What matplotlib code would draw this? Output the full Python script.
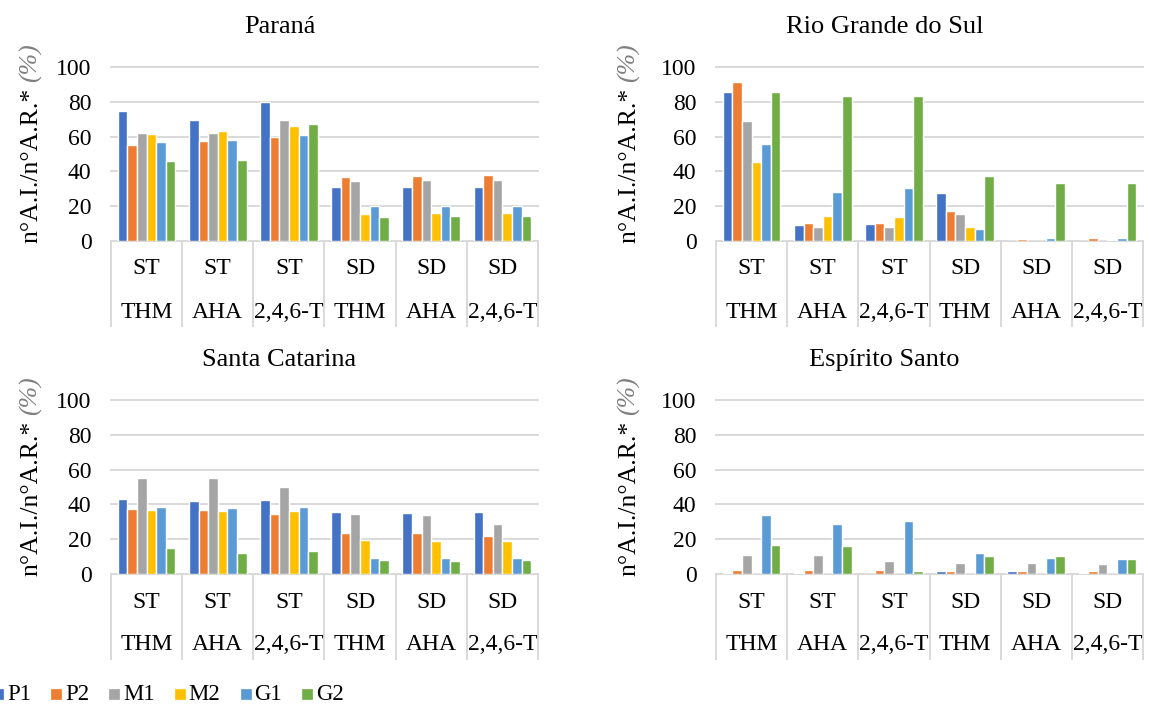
import matplotlib
matplotlib.use('Agg')
import matplotlib.pyplot as plt
import numpy as np
from matplotlib.patches import Rectangle
import matplotlib.transforms as mtransforms

plt.rcParams['font.family'] = ['Liberation Serif', 'DejaVu Serif']

# ---------------- data ----------------
series = ['P1', 'P2', 'M1', 'M2', 'G1', 'G2']
colors = ['#4472C4', '#ED7D31', '#A5A5A5', '#FFC000', '#5B9BD5', '#70AD47']
level1 = ['ST', 'ST', 'ST', 'SD', 'SD', 'SD']
level2 = ['THM', 'AHA', '2,4,6-T', 'THM', 'AHA', '2,4,6-T']
titles = ['Paraná', 'Rio Grande do Sul', 'Santa Catarina', 'Espírito Santo']
yticks = [0, 20, 40, 60, 80, 100]
ylabel_main = 'n°A.I./n°A.R.*'
ylabel_unit = '(%)'

# rows: P1, P2, M1, M2, G1, G2 ; columns: categories
parana = [
    [75.0, 69.8, 79.6, 31.0, 31.0, 31.3],
    [55.4, 57.3, 60.0, 36.9, 37.5, 38.1],
    [62.3, 62.3, 69.8, 34.2, 35.2, 35.2],
    [61.7, 63.5, 66.0, 15.6, 16.0, 16.2],
    [57.1, 58.1, 61.2, 20.2, 20.0, 20.2],
    [46.2, 46.7, 67.3, 13.8, 14.6, 14.6],
]
rio_grande_do_sul = [
    [85.6, 9.2, 9.8, 27.3, 0.2, 0.2],
    [91.3, 10.2, 10.4, 17.1, 1.3, 1.7],
    [68.7, 8.3, 8.3, 15.6, 0.0, 0.0],
    [45.2, 14.4, 14.0, 8.3, 0.2, 0.6],
    [56.0, 28.3, 30.2, 6.7, 1.5, 1.7],
    [85.4, 83.3, 83.3, 37.5, 33.3, 33.3],
]
santa_catarina = [
    [43.3, 42.1, 42.5, 35.4, 34.8, 35.4],
    [37.1, 36.5, 34.6, 23.8, 23.8, 21.7],
    [55.2, 55.0, 49.8, 34.6, 34.0, 29.0],
    [36.5, 36.0, 36.0, 19.4, 19.0, 19.0],
    [38.5, 38.1, 38.5, 9.2, 9.0, 9.0],
    [14.8, 12.1, 13.5, 8.1, 7.3, 7.9],
]
espirito_santo = [
    [0.3, 0.3, 0.0, 1.7, 1.7, 0.8],
    [2.1, 2.3, 2.3, 1.7, 1.7, 1.7],
    [10.8, 11.0, 7.5, 6.3, 6.3, 5.8],
    [0.0, 0.0, 0.0, 0.0, 0.0, 0.0],
    [34.0, 28.7, 30.6, 12.1, 9.0, 8.5],
    [16.7, 16.2, 1.9, 10.4, 10.4, 8.5],
]
states = [parana, rio_grande_do_sul, santa_catarina, espirito_santo]

# ---------------- layout ----------------
W, H = 1149, 704
fig = plt.figure(figsize=(W / 100, H / 100), dpi=100)
renderer = fig.canvas.get_renderer()

lefts = [111, 716, 111, 716]
zeros = [241, 241, 574, 574]
pw, ph = 427, 174
grid_c = '#D9D9D9'
bw = 0.135

for k, data in enumerate(states):
    l, z = lefts[k], zeros[k]
    ax = fig.add_axes([l / W, 1 - z / H, pw / W, ph / H])
    x = np.arange(len(level2))
    for i, (s, c) in enumerate(zip(series, colors)):
        ax.bar(x + (i - 2.5) * bw, data[i], width=bw, color=c,
               edgecolor='white', linewidth=1.0, zorder=3)
    ax.set_xlim(-0.5, len(level2) - 0.5)
    ax.set_ylim(0, 100)
    ax.set_yticks(yticks)
    ax.set_yticklabels([str(t) for t in yticks], fontsize=17)
    ax.tick_params(axis='y', length=0, pad=14)
    ax.set_xticks([])
    for t in yticks[1:]:
        ax.axhline(t, color=grid_c, lw=1.4, zorder=1, clip_on=False)
    for sp in ['top', 'right', 'left']:
        ax.spines[sp].set_visible(False)
    ax.spines['bottom'].set_color(grid_c)
    ax.spines['bottom'].set_linewidth(1.4)
    trans = mtransforms.blended_transform_factory(ax.transData, ax.transAxes)
    for j in range(len(level2) + 1):
        ax.plot([j - 0.5, j - 0.5], [0, -85 / ph], color=grid_c, lw=1.4,
                transform=trans, clip_on=False)
    for j in range(len(level2)):
        ax.text(j, -28 / ph, level1[j], transform=trans, ha='center',
                va='center', fontsize=17)
        ax.text(j, -71 / ph, level2[j], transform=trans, ha='center',
                va='center', fontsize=17)
    # title
    fig.text((l + pw / 2 - 45) / W, 1 - (z - 208) / H, titles[k],
             ha='center', va='baseline', fontsize=19)
    # y label (two parts)
    lx = 31 if k % 2 == 0 else 629
    yb = z + 2
    t1 = fig.text(lx / W, 1 - yb / H, ylabel_main, rotation=90,
                  ha='center', va='bottom', fontsize=18.5)
    bb = t1.get_window_extent(renderer)
    fig.text(lx / W, (bb.y1 + 6) / H, ylabel_unit, rotation=90,
             ha='center', va='bottom', fontsize=18.5, color='#7F7F7F',
             style='italic')

# ---------------- legend ----------------
xcur = -7
for s, c in zip(series, colors):
    fig.patches.append(Rectangle((xcur / W, 1 - 699 / H), 10 / W, 10 / H,
                                 transform=fig.transFigure, facecolor=c,
                                 edgecolor=c, lw=0.5))
    t = fig.text((xcur + 14) / W, 1 - 700 / H, s, ha='left', va='baseline',
                 fontsize=16.5)
    bb = t.get_window_extent(renderer)
    xcur = bb.x1 + 20

fig.savefig('out.png', dpi=100)
